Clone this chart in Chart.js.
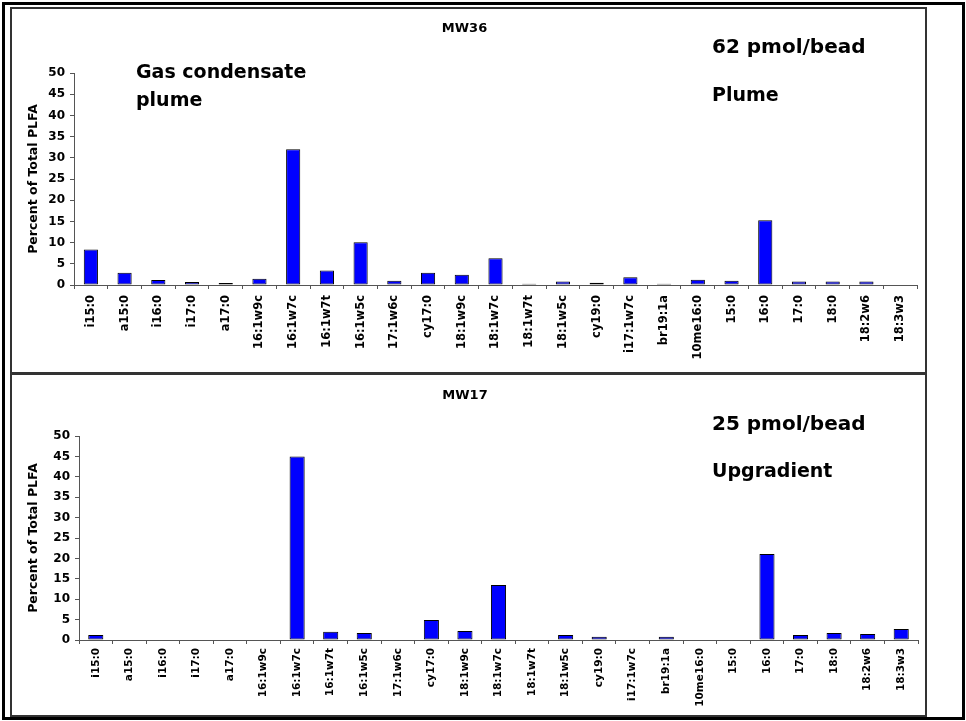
<!DOCTYPE html>
<html>
<head>
<meta charset="utf-8">
<script src="https://cdn.jsdelivr.net/npm/chart.js@4"></script>
<style>
  body { margin: 0; background: #fff; width: 966px; height: 721px; position: relative; overflow: hidden; }
  #frame { position: absolute; left: 2px; top: 2px; width: 957px; height: 712px; border: 3px solid #000; }
  .panel { position: absolute; left: 10px; width: 913px; border: 2px solid #333; }
  #p1 { top: 7px; height: 363px; }
  #p2 { top: 373px; height: 340px; }
  canvas { position: absolute; left: 12px; }
  #c1 { top: 9px; }
  #c2 { top: 375px; }
</style>
</head>
<body>
<div id="frame"></div>
<div class="panel" id="p1"></div>
<div class="panel" id="p2"></div>
<canvas id="c1" width="913" height="363"></canvas>
<canvas id="c2" width="913" height="340"></canvas>
<script>
var categories = ['i15:0', 'a15:0', 'i16:0', 'i17:0', 'a17:0', '16:1w9c', '16:1w7c', '16:1w7t',
  '16:1w5c', '17:1w6c', 'cy17:0', '18:1w9c', '18:1w7c', '18:1w7t', '18:1w5c', 'cy19:0',
  'i17:1w7c', 'br19:1a', '10me16:0', '15:0', '16:0', '17:0', '18:0', '18:2w6', '18:3w3'];

// MW36 - plume well
var mw36Values = [8.4, 2.9, 1.2, 0.7, 0.5, 1.5, 32.0, 3.4, 10.1, 1.0, 2.9, 2.4, 6.3, 0.3,
  0.8, 0.55, 1.8, 0.3, 1.25, 1.0, 15.3, 0.8, 0.8, 0.8, 0];

// MW17 - upgradient well
var mw17Values = [1.2, 0, 0, 0, 0, 0, 45.0, 2.0, 1.7, 0, 4.9, 2.2, 13.5, 0, 1.2, 0.8,
  0, 0.8, 0, 0, 21.1, 1.2, 1.7, 1.5, 2.7];

var yTicks = { min: 0, max: 50, step: 5 };
var yTitle = 'Percent of Total PLFA';

Chart.defaults.font.family = 'DejaVu Sans';
Chart.defaults.font.weight = 'bold';
Chart.defaults.color = '#000';

// notes drawn on the chart, like the text boxes in the original
var notesPlugin = {
  id: 'notes',
  afterDraw: function(chart, args, opts) {
    var ctx = chart.ctx;
    ctx.save();
    ctx.fillStyle = '#000';
    ctx.textBaseline = 'alphabetic';
    ctx.textAlign = 'left';
    (opts.items || []).forEach(function(n) {
      ctx.font = 'bold ' + n.size + 'px "DejaVu Sans"';
      ctx.fillText(n.text, n.x, n.y);
    });
    ctx.restore();
  }
};

function makeChart(id, title, values, cfg) {
  var ctx = document.getElementById(id).getContext('2d');
  return new Chart(ctx, {
    type: 'bar',
    data: {
      labels: categories,
      datasets: [{
        data: values,
        backgroundColor: '#0000FF',
        borderColor: '#000',
        borderWidth: 1,
        borderSkipped: false,
        barPercentage: cfg.barPct,
        categoryPercentage: 1
      }]
    },
    options: {
      responsive: false,
      animation: false,
      devicePixelRatio: 1,
      layout: { padding: { left: 0, right: cfg.padRight, top: 0, bottom: 0 } },
      plugins: {
        legend: { display: false },
        tooltip: { enabled: false },
        title: {
          display: true,
          text: title,
          font: { size: 13, weight: 'bold' },
          color: '#000',
          padding: { top: cfg.titleTop, bottom: cfg.titleBottom }
        },
        notes: { items: cfg.notes }
      },
      scales: {
        x: {
          grid: { drawOnChartArea: false, drawTicks: true, tickLength: 4, color: '#555' },
          border: { color: '#555', width: 1 },
          ticks: {
            autoSkip: false, minRotation: 90, maxRotation: 90,
            padding: cfg.xPad, font: { size: cfg.xFont, weight: 'bold' }, color: '#000'
          },
          afterFit: function(s) { s.height = cfg.xHeight; }
        },
        y: {
          min: yTicks.min, max: yTicks.max,
          grid: { drawOnChartArea: false, drawTicks: true, tickLength: 4, color: '#555' },
          border: { color: '#555', width: 1 },
          ticks: { stepSize: yTicks.step, padding: 5, font: { size: 12, weight: 'bold' }, color: '#000' },
          title: {
            display: true, text: yTitle, color: '#000',
            font: { size: 12.5, weight: 'bold' }, padding: { top: 14, bottom: 0 }
          },
          afterFit: function(s) { s.width = cfg.yWidth; }
        }
      }
    },
    plugins: [notesPlugin]
  });
}

makeChart('c1', 'MW36', mw36Values, {
  barPct: 0.42, padRight: 8, titleTop: 11.5, titleBottom: 36.9, xPad: 6, xHeight: 87, yWidth: 62, xFont: 11.5,
  notes: [
    { text: 'Gas condensate', x: 124, y: 69, size: 19 },
    { text: 'plume', x: 124, y: 97, size: 19 },
    { text: '62 pmol/bead', x: 700, y: 44, size: 20 },
    { text: 'Plume', x: 700, y: 92, size: 19 }
  ]
});

makeChart('c2', 'MW17', mw17Values, {
  barPct: 0.45, padRight: 7, titleTop: 12.5, titleBottom: 32.9, xPad: 4, xHeight: 75, yWidth: 67, xFont: 10.5,
  notes: [
    { text: '25 pmol/bead', x: 700, y: 55, size: 20 },
    { text: 'Upgradient', x: 700, y: 102, size: 19 }
  ]
});
</script>
</body>
</html>
